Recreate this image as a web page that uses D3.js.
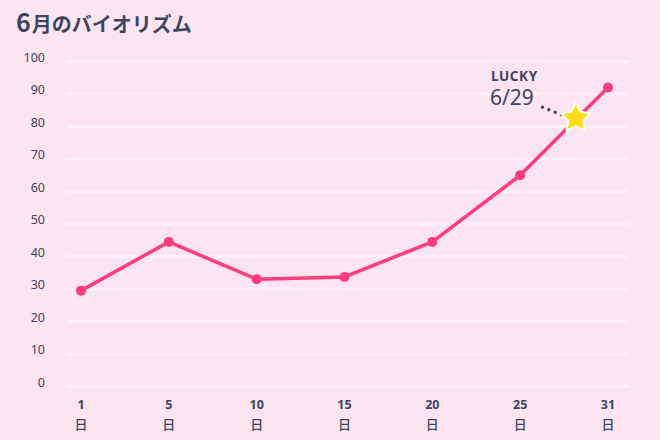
<!DOCTYPE html>
<html>
<head>
<meta charset="utf-8">
<script src="https://cdn.jsdelivr.net/npm/d3@7"></script>
<style>
  body { margin: 0; background: #fde4f1; }
  svg { display: block; font-family: "Noto Sans CJK JP", "Noto Sans", sans-serif; }
</style>
</head>
<body>
<div id="chart"></div>
<script>
var days = [1, 5, 10, 15, 20, 25, 31]
var values = [29.5, 44.5, 33, 33.7, 44.5, 65, 92]
var yTicks = [0, 10, 20, 30, 40, 50, 60, 70, 80, 90, 100]
var luckyDay = 29
var luckyValue = 83
var titleMonth = "6"
var titleRest = "月のバイオリズム"

var svgWidth = 660
var svgHeight = 440

var svg = d3.select("#chart").append("svg").attr("width", svgWidth).attr("height", svgHeight)

svg.append("rect").attr("width", svgWidth).attr("height", svgHeight).attr("fill", "#fde4f1")

var ink = "#3b4562"
var pink = "#fb3d7e"

// categories sit evenly along the axis, days in between are interpolated
var xLeft = 81, xRight = 608
var step = (xRight - xLeft) / (days.length - 1)
var xScale = d3.scaleLinear().domain(days).range(days.map((d, i) => xLeft + i * step))

var yScale = d3.scaleLinear().domain([0, 100]).range([386.5, 61.5])

// title
var title = svg.append("text").attr("x", 16).attr("y", 32).attr("fill", ink).attr("font-weight", 700)
title.append("tspan").attr("font-size", 25).text(titleMonth)
title.append("tspan").attr("font-size", 20).attr("dx", 1).text(titleRest)

// grid
svg.append("g").selectAll("line").data(yTicks).enter().append("line")
    .attr("x1", 67).attr("x2", 627)
    .attr("y1", d => yScale(d)).attr("y2", d => yScale(d))
    .attr("stroke", "#fff2f8").attr("stroke-opacity", 0.85).attr("stroke-width", 3).attr("stroke-linecap", "round")

// y axis labels
var leftAxis = d3.axisLeft(yScale).tickValues(yTicks).tickSize(0).tickPadding(0)
var yAxisG = svg.append("g").attr("transform", "translate(45, -4.5)").call(leftAxis)
yAxisG.select(".domain").remove()
yAxisG.selectAll("text").attr("fill", ink).attr("font-size", 12.5)
    .attr("font-family", "'Noto Sans', sans-serif")

// x axis labels: day number over 日
var xLabels = svg.append("g")
xLabels.selectAll(".day").data(days).enter().append("text").attr("class", "day")
    .attr("x", d => xScale(d)).attr("y", 408.5)
    .attr("text-anchor", "middle").attr("fill", ink)
    .attr("font-size", 12.5).attr("font-weight", 700)
    .attr("font-family", "'Noto Sans', sans-serif")
    .text(d => d)
xLabels.selectAll(".nichi").data(days).enter().append("text").attr("class", "nichi")
    .attr("x", d => xScale(d)).attr("y", 428.5)
    .attr("text-anchor", "middle").attr("fill", ink)
    .attr("font-size", 13).attr("font-weight", 500)
    .text("日")

// line
var line = d3.line().x((d, i) => xScale(days[i])).y(d => yScale(d))
svg.append("path").datum(values).attr("d", line)
    .attr("fill", "none").attr("stroke", pink).attr("stroke-width", 3.5)
    .attr("stroke-linejoin", "round")

svg.append("g").selectAll("circle").data(values).enter().append("circle")
    .attr("cx", (d, i) => xScale(days[i])).attr("cy", d => yScale(d))
    .attr("r", 5).attr("fill", pink)

// lucky day
var sx = xScale(luckyDay), sy = yScale(luckyValue)

svg.append("text").attr("x", 491).attr("y", 80.5).attr("fill", ink)
    .attr("font-size", 13.5).attr("font-weight", 700).attr("letter-spacing", 0.6)
    .attr("font-family", "'Noto Sans', sans-serif")
    .text("LUCKY")
svg.append("text").attr("x", 490).attr("y", 105).attr("fill", ink)
    .attr("font-size", 21)
    .attr("font-family", "'Noto Sans', sans-serif")
    .text("6/" + luckyDay)

svg.append("line").attr("x1", 542.5).attr("y1", 107.3).attr("x2", sx - 17).attr("y2", sy - 2)
    .attr("stroke", ink).attr("stroke-width", 3.4).attr("stroke-linecap", "round")
    .attr("stroke-dasharray", "0 6.8")

// chubby star
var outerR = 15.5, innerR = 8
var starPts = d3.range(10).map(i => {
    var a = -Math.PI / 2 + i * Math.PI / 5
    var r = i % 2 ? innerR : outerR
    return [r * Math.cos(a), r * Math.sin(a)]
})
svg.append("path")
    .attr("d", d3.line()(starPts) + "Z")
    .attr("transform", `translate(${sx - 3}, ${sy + 1.5})`)
    .attr("fill", "#ffdc1a").attr("stroke", "#fffaf2").attr("stroke-width", 2.2)
    .attr("stroke-linejoin", "round")
</script>
</body>
</html>
